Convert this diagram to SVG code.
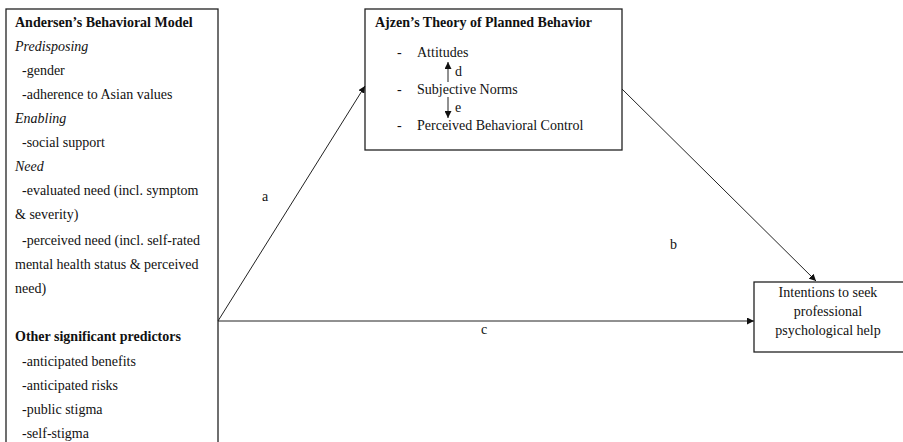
<svg xmlns="http://www.w3.org/2000/svg" width="903" height="442" viewBox="0 0 903 442">
<style>
text{font-family:"Liberation Serif","Times New Roman",serif;font-size:14px;fill:#111}
.b{font-weight:bold}
.i{font-style:italic}
.box{fill:#fff;stroke:#222;stroke-width:1.3}
.ln{stroke:#222;stroke-width:1;fill:none}
</style>
<defs>
<marker id="ah" viewBox="0 0 10 10" refX="10" refY="5" markerWidth="7" markerHeight="7" orient="auto" markerUnits="userSpaceOnUse">
<path d="M0,0 L10,5 L0,10 z" fill="#111"/>
</marker>
</defs>
<rect width="903" height="442" fill="#fff"/>
<g id="andersen">
<rect class="box" x="6" y="9" width="212" height="440"/>
<text class="b" x="15" y="27">Andersen’s Behavioral Model</text>
<text class="i" x="15" y="51">Predisposing</text>
<text x="15" y="75" xml:space="preserve">  -gender</text>
<text x="15" y="99" xml:space="preserve">  -adherence to Asian values</text>
<text class="i" x="15" y="123">Enabling</text>
<text x="15" y="147" xml:space="preserve">  -social support</text>
<text class="i" x="15" y="171">Need</text>
<text x="15" y="195" xml:space="preserve">  -evaluated need (incl. symptom</text>
<text x="15" y="219">&amp; severity)</text>
<text x="15" y="245" xml:space="preserve">  -perceived need (incl. self-rated</text>
<text x="15" y="269">mental health status &amp; perceived</text>
<text x="15" y="293">need)</text>
<text class="b" x="15" y="341">Other significant predictors</text>
<text x="15" y="366" xml:space="preserve">  -anticipated benefits</text>
<text x="15" y="390" xml:space="preserve">  -anticipated risks</text>
<text x="15" y="414" xml:space="preserve">  -public stigma</text>
<text x="15" y="438" xml:space="preserve">  -self-stigma</text>
</g>
<g id="ajzen">
<rect class="box" x="365" y="9" width="257" height="141"/>
<text class="b" x="375" y="27">Ajzen’s Theory of Planned Behavior</text>
<text x="397" y="57">-</text>
<text x="417" y="57">Attitudes</text>
<text x="397" y="94">-</text>
<text x="417" y="94">Subjective Norms</text>
<text x="397" y="130">-</text>
<text x="417" y="130">Perceived Behavioral Control</text>
<line class="ln" x1="448" y1="82" x2="448" y2="62" marker-end="url(#ah)"/>
<text x="455" y="76">d</text>
<line class="ln" x1="448" y1="97" x2="448" y2="118" marker-end="url(#ah)"/>
<text x="455" y="112">e</text>
</g>
<g id="intentions">
<rect class="box" x="754" y="282" width="152" height="70"/>
<text x="828" y="297" text-anchor="middle">Intentions to seek</text>
<text x="828" y="316" text-anchor="middle">professional</text>
<text x="828" y="335" text-anchor="middle">psychological help</text>
</g>
<g id="connectors">
<line class="ln" x1="218" y1="321" x2="365" y2="86" marker-end="url(#ah)"/>
<text x="262" y="201">a</text>
<line class="ln" x1="622" y1="89" x2="816" y2="281" marker-end="url(#ah)"/>
<text x="670" y="249">b</text>
<line class="ln" x1="218" y1="321" x2="754" y2="321" marker-end="url(#ah)"/>
<text x="481" y="334">c</text>
</g>
</svg>
